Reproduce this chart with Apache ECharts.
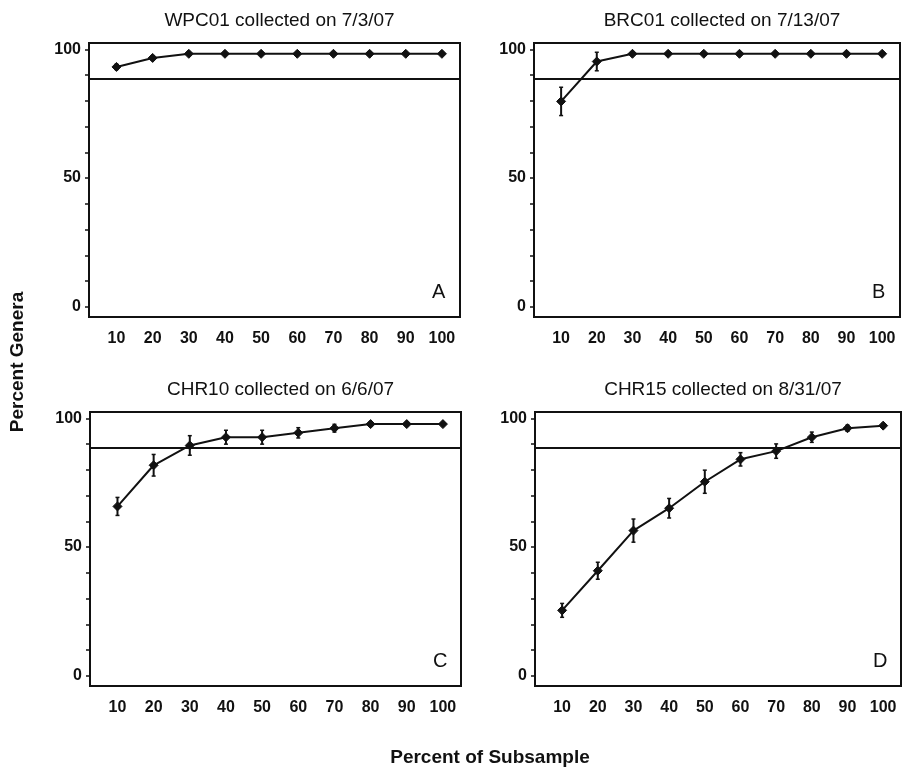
<!DOCTYPE html>
<html>
<head>
<meta charset="utf-8">
<script src="https://cdn.jsdelivr.net/npm/echarts@6/dist/echarts.min.js"></script>
<style>html,body{margin:0;padding:0;background:#fff;}#c{width:909px;height:778px;}</style>
</head>
<body>
<div id="c"></div>
<script>
// ---- data ----
const subsample = [10, 20, 30, 40, 50, 60, 70, 80, 90, 100];
const xTickLabels = [10, 20, 30, 40, 50, 60, 70, 80, 90, 100];
const yTickLabels = [0, 50, 100];
const yMinorTicks = [0, 10, 20, 30, 40, 50, 60, 70, 80, 90, 100];
const thresholdLine = 88.5;

const titles = ['WPC01 collected on 7/3/07', 'BRC01 collected on 7/13/07', 'CHR10 collected on 6/6/07', 'CHR15 collected on 8/31/07'];
const panelLetters = ['A', 'B', 'C', 'D'];

const wpc01Mean = [93.2, 96.7, 98.3, 98.3, 98.3, 98.3, 98.3, 98.3, 98.3, 98.3];
const wpc01Err  = [1.0, 0.8, 0.5, 0.5, 0.5, 0.5, 0.5, 0.5, 0.5, 0.5];
const brc01Mean = [79.8, 95.3, 98.3, 98.3, 98.3, 98.3, 98.3, 98.3, 98.3, 98.3];
const brc01Err  = [5.5, 3.6, 0.5, 0.5, 0.5, 0.5, 0.5, 0.5, 0.5, 0.5];
const chr10Mean = [65.8, 81.8, 89.5, 92.7, 92.7, 94.4, 96.2, 97.8, 97.8, 97.8];
const chr10Err  = [3.5, 4.2, 3.8, 2.7, 2.7, 2.0, 1.5, 0.8, 0.5, 0.5];
const chr15Mean = [25.4, 40.8, 56.4, 65.1, 75.4, 84.1, 87.3, 92.7, 96.2, 97.2];
const chr15Err  = [2.7, 3.3, 4.5, 3.8, 4.5, 2.6, 2.8, 2.0, 1.2, 0.8];

const means = [wpc01Mean, brc01Mean, chr10Mean, chr15Mean];
const errs = [wpc01Err, brc01Err, chr10Err, chr15Err];

// ---- layout ----
const grids = [
  {left: 89, top: 43, width: 371, height: 274},
  {left: 534, top: 43, width: 366, height: 274},
  {left: 90, top: 412, width: 371, height: 274},
  {left: 535, top: 412, width: 366, height: 274}
];
const FONT = '"Liberation Sans", Arial, sans-serif';
const INK = '#111';

const option = {
  backgroundColor: '#fff',
  animation: false,
  title: [],
  grid: [],
  xAxis: [],
  yAxis: [],
  series: [],
  graphic: []
};

grids.forEach((g, i) => {
  option.grid.push(Object.assign({show: true, borderColor: INK, borderWidth: 2, backgroundColor: 'transparent'}, g));
  option.title.push({
    text: titles[i],
    left: g.left + g.width / 2, textAlign: 'center',
    top: g.top - 37,
    textStyle: {fontFamily: FONT, fontSize: 19, fontWeight: 'normal', color: INK}
  });
  option.xAxis.push({
    type: 'value', gridIndex: i, min: 2.4, max: 105,
    axisLine: {show: false, onZero: false},
    axisTick: {show: false},
    splitLine: {show: false},
    axisLabel: {customValues: xTickLabels, margin: 14, fontFamily: FONT, fontSize: 16, fontWeight: 'bold', color: INK}
  });
  option.yAxis.push({
    type: 'value', gridIndex: i, min: -4, max: 102.5,
    axisLine: {show: true, lineStyle: {color: INK, width: 2}},
    axisTick: {show: true, customValues: yMinorTicks, length: 4, lineStyle: {color: INK, width: 1.5}},
    splitLine: {show: false},
    axisLabel: {customValues: yTickLabels, margin: 8, fontFamily: FONT, fontSize: 16, fontWeight: 'bold', color: INK}
  });
  const lineData = subsample.map((x, k) => [x, means[i][k]]);
  const errData = subsample.map((x, k) => [x, means[i][k] - errs[i][k], means[i][k] + errs[i][k]]);
  option.series.push({
    type: 'custom', xAxisIndex: i, yAxisIndex: i, data: errData, z: 3,
    renderItem: function (params, api) {
      const lo = api.coord([api.value(0), api.value(1)]);
      const hi = api.coord([api.value(0), api.value(2)]);
      return {
        type: 'group',
        children: [
          {type: 'line', shape: {x1: lo[0], y1: lo[1], x2: hi[0], y2: hi[1]}, style: {stroke: INK, lineWidth: 2}},
          {type: 'line', shape: {x1: lo[0] - 2, y1: lo[1], x2: lo[0] + 2, y2: lo[1]}, style: {stroke: INK, lineWidth: 1.5}},
          {type: 'line', shape: {x1: hi[0] - 2, y1: hi[1], x2: hi[0] + 2, y2: hi[1]}, style: {stroke: INK, lineWidth: 1.5}}
        ]
      };
    }
  });
  option.series.push({
    type: 'line', xAxisIndex: i, yAxisIndex: i, data: lineData, z: 4,
    symbol: 'diamond', symbolSize: 9,
    lineStyle: {color: INK, width: 2},
    itemStyle: {color: INK, borderColor: INK},
    markLine: {
      silent: true, symbol: 'none', label: {show: false},
      lineStyle: {color: INK, width: 2, type: 'solid'},
      data: [{yAxis: thresholdLine}]
    }
  });
  option.graphic.push({
    type: 'text',
    left: g.left + g.width - 28, top: g.top + g.height - 35,
    style: {text: panelLetters[i], font: 'normal 20px ' + FONT, fill: INK}
  });
});

option.graphic.push({
  type: 'text', x: 8, y: 362, rotation: Math.PI / 2,
  style: {text: 'Percent Genera', font: 'bold 19px ' + FONT, fill: INK, align: 'center', verticalAlign: 'top'},
  originX: 0, originY: 0
});
option.graphic.push({
  type: 'text', x: 490, y: 748,
  style: {text: 'Percent of Subsample', font: 'bold 19px ' + FONT, fill: INK, align: 'center', verticalAlign: 'top'}
});

const chart = echarts.init(document.getElementById('c'), null, {renderer: 'canvas'});
chart.setOption(option);
</script>
</body>
</html>
